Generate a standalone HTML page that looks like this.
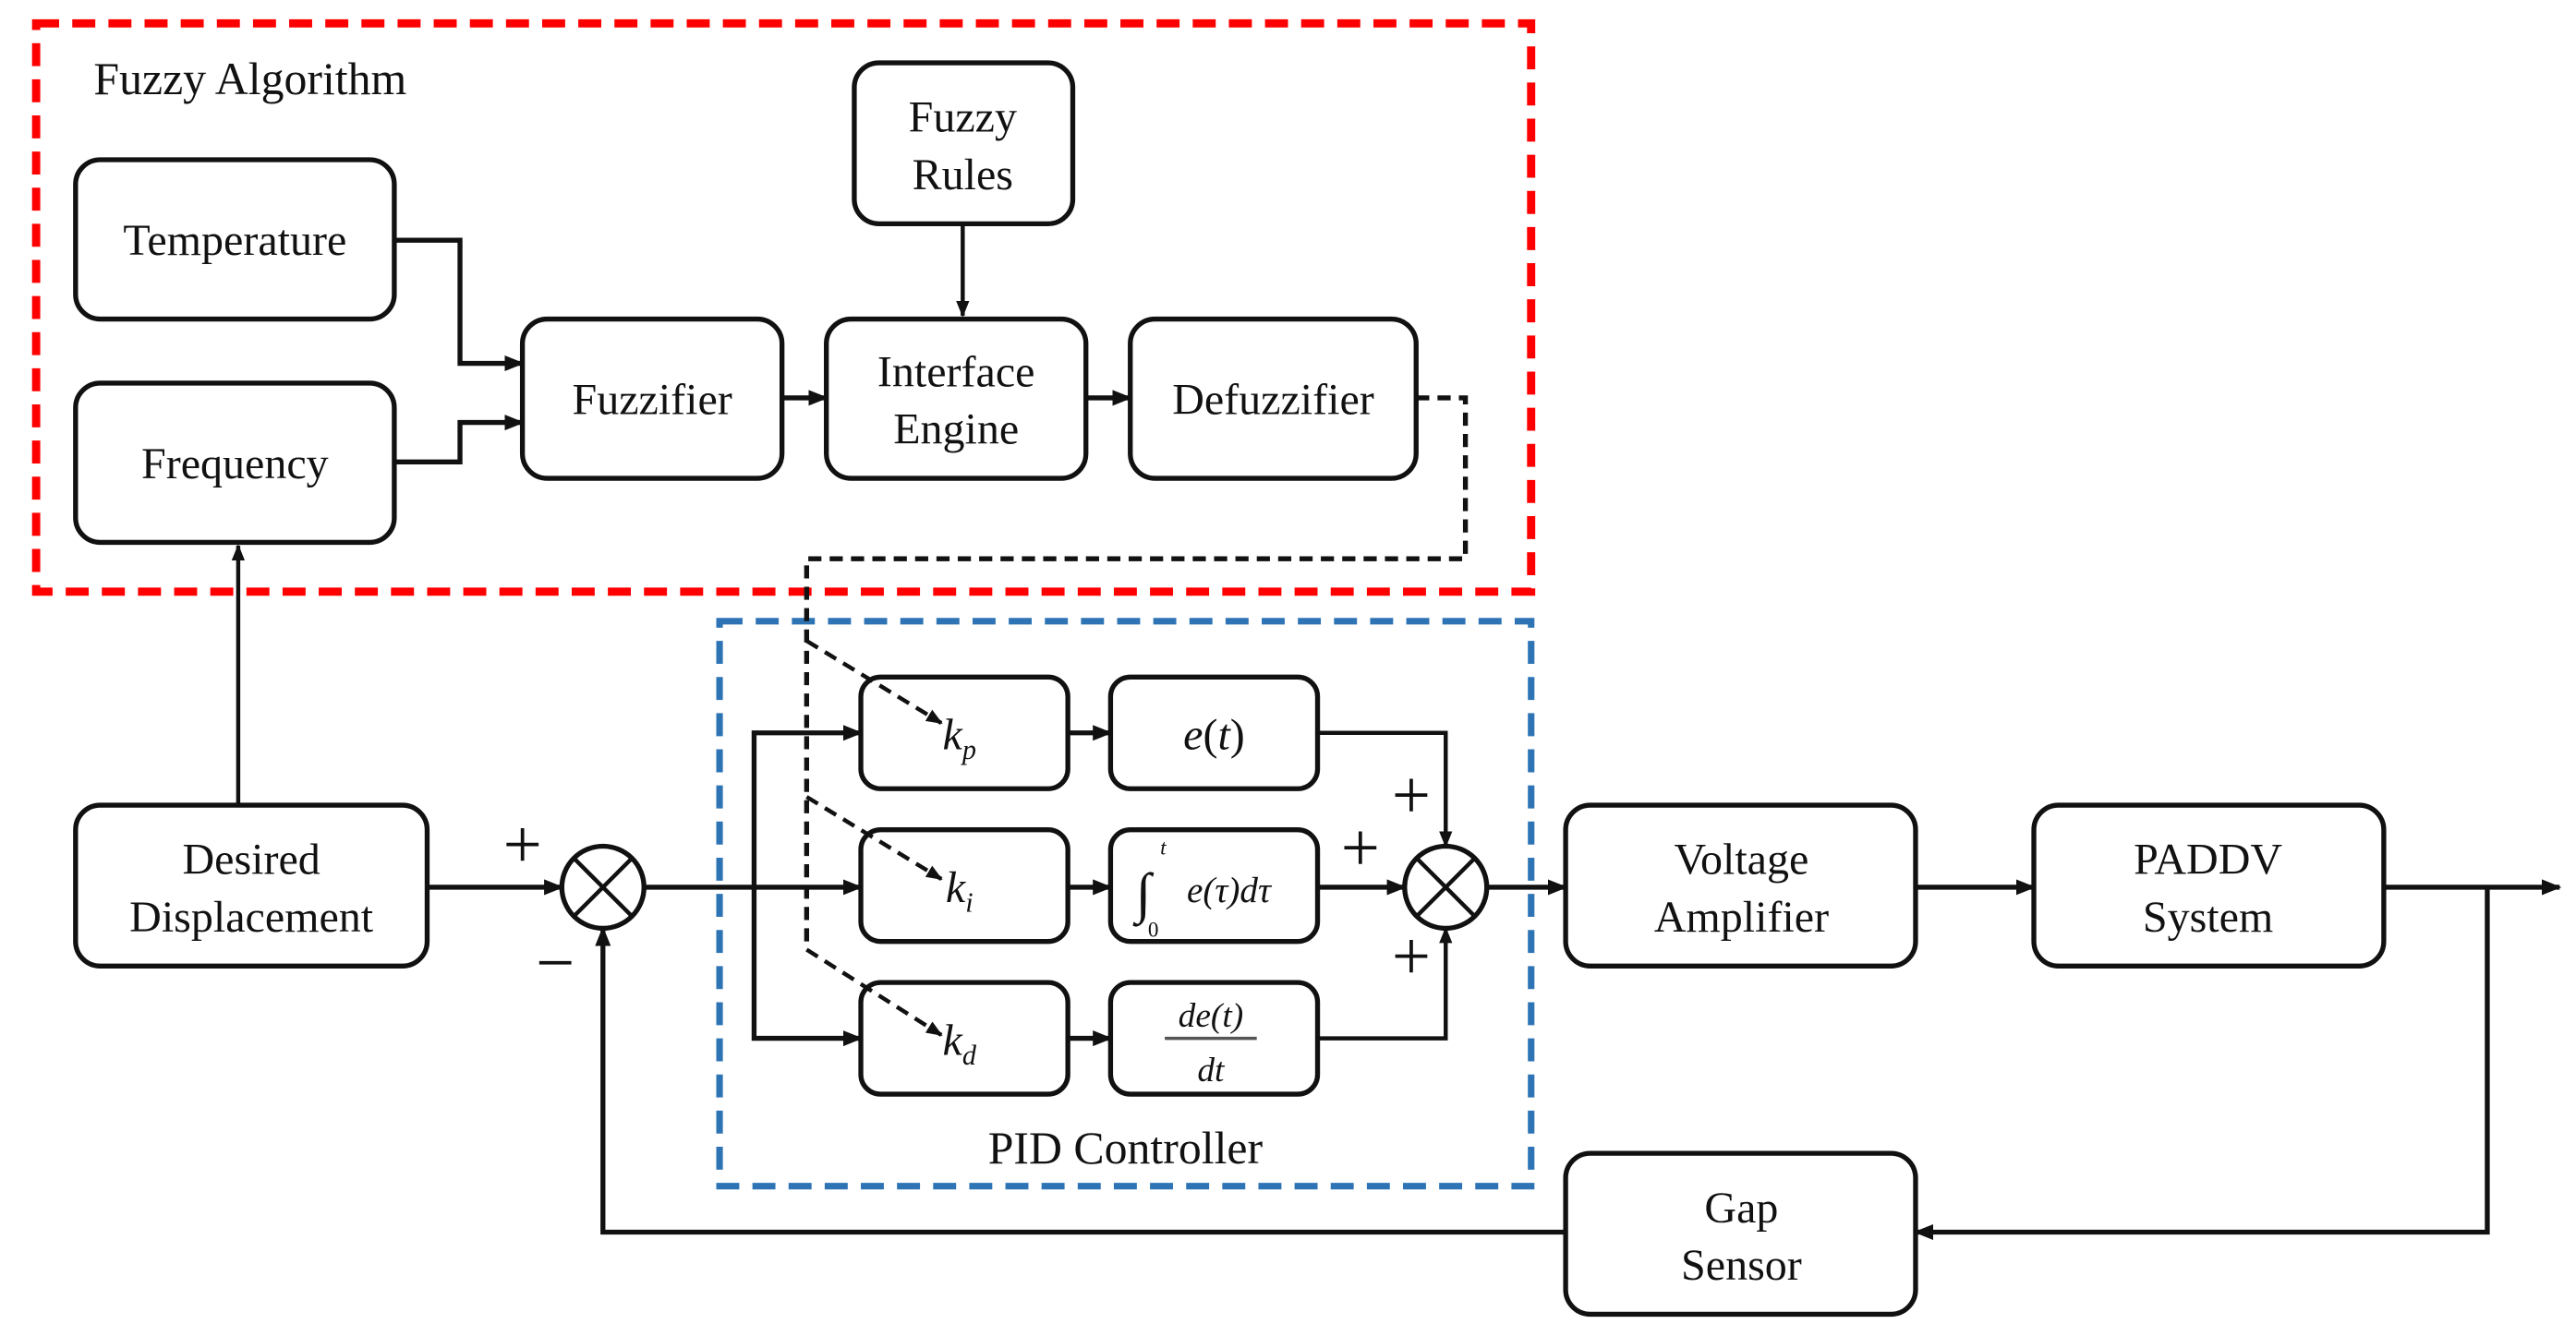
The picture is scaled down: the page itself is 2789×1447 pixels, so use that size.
<!DOCTYPE html>
<html><head><meta charset="utf-8"><style>
html,body{margin:0;padding:0;background:#fff;}
svg{display:block;}
svg text{font-family:"Liberation Serif","Times New Roman",serif !important;fill:#111;}
</style></head><body>
<svg width="2789" height="1447" viewBox="0 0 1568 813" xmlns="http://www.w3.org/2000/svg" font-family="Liberation Serif, serif">
<defs>
<marker id="a" viewBox="0 0 10 10" refX="9" refY="5" markerWidth="4" markerHeight="4" orient="auto"><path d="M0,1 L10,5 L0,9 z" fill="#111"/></marker>
</defs>
<rect width="1568" height="813" fill="#fff"/>
<rect x="22" y="14" width="910" height="346" fill="none" stroke="#f00" stroke-width="5" stroke-dasharray="14,8"/>
<text x="57" y="57" font-size="28" font-family="Liberation Serif, serif">Fuzzy Algorithm</text>
<rect x="438" y="378" width="494" height="344" fill="none" stroke="#2e74b5" stroke-width="4" stroke-dasharray="14,8"/>
<text x="685" y="708" font-size="28" text-anchor="middle" font-family="Liberation Serif, serif">PID Controller</text>
<g fill="#fff" stroke="#111" stroke-width="3">
<rect x="520" y="38" width="133" height="98" rx="15"/>
<rect x="46" y="97" width="194" height="97" rx="15"/>
<rect x="46" y="233" width="194" height="97" rx="15"/>
<rect x="318" y="194" width="158" height="97" rx="15"/>
<rect x="503" y="194" width="158" height="97" rx="15"/>
<rect x="688" y="194" width="174" height="97" rx="15"/>
<rect x="46" y="490" width="214" height="98" rx="15"/>
<rect x="524" y="412" width="126" height="68" rx="12"/>
<rect x="676" y="412" width="126" height="68" rx="12"/>
<rect x="524" y="505" width="126" height="68" rx="12"/>
<rect x="676" y="505" width="126" height="68" rx="12"/>
<rect x="524" y="598" width="126" height="68" rx="12"/>
<rect x="676" y="598" width="126" height="68" rx="12"/>
<rect x="953" y="490" width="213" height="98" rx="15"/>
<rect x="1238" y="490" width="213" height="98" rx="15"/>
<rect x="953" y="702" width="213" height="98" rx="15"/>
</g>
<g font-size="27" text-anchor="middle" font-family="Liberation Serif, serif">
<text x="586" y="80">Fuzzy</text><text x="586" y="115">Rules</text>
<text x="143" y="155">Temperature</text>
<text x="143" y="291">Frequency</text>
<text x="397" y="252">Fuzzifier</text>
<text x="582" y="235">Interface</text><text x="582" y="270">Engine</text>
<text x="775" y="252">Defuzzifier</text>
<text x="153" y="532">Desired</text><text x="153" y="567">Displacement</text>
<text x="1060" y="532">Voltage</text><text x="1060" y="567">Amplifier</text>
<text x="1344" y="532">PADDV</text><text x="1344" y="567">System</text>
<text x="1060" y="744">Gap</text><text x="1060" y="779">Sensor</text>
</g>
<g font-style="italic" font-size="27" text-anchor="middle" font-family="Liberation Serif, serif">
<text x="584" y="456">k<tspan font-size="17" dy="6">p</tspan></text>
<text x="584" y="549">k<tspan font-size="17" dy="6">i</tspan></text>
<text x="584" y="642">k<tspan font-size="17" dy="6">d</tspan></text>
<text x="739" y="456"><tspan>e</tspan><tspan font-style="normal">(</tspan>t<tspan font-style="normal">)</tspan></text>
<text x="748" y="549" font-size="22">e(τ)dτ</text>
<text x="696" y="555" font-size="34" font-style="normal">∫</text>
<text x="708" y="520" font-size="13">t</text>
<text x="702" y="570" font-size="13" font-style="normal">0</text>
<text x="737" y="625" font-size="21">de(t)</text>
<text x="737" y="658" font-size="21">dt</text>
</g>
<line x1="709" y1="632" x2="765" y2="632" stroke="#555" stroke-width="2"/>
<g fill="none" stroke="#111" stroke-width="3" marker-end="url(#a)">
<path d="M240,146 H280 V221 H318"/>
<path d="M240,281 H280 V257 H318"/>
<path d="M476,242 H503"/>
<path d="M661,242 H688"/>
<path d="M586,136 V192" stroke-width="2.5"/>
<path d="M145,490 V332" stroke-width="2.5"/>
<path d="M260,540 H342"/>
<path d="M392,540 H524"/>
<path d="M459,540 V446 H524"/>
<path d="M459,540 V632 H524"/>
<path d="M650,446 H676"/>
<path d="M650,540 H676"/>
<path d="M650,632 H676"/>
<path d="M802,446 H880 V515" stroke-width="2.5"/>
<path d="M802,540 H855"/>
<path d="M802,632 H880 V565" stroke-width="2.5"/>
<path d="M905,540 H953"/>
<path d="M1166,540 H1238"/>
<path d="M1451,540 H1558"/>
<path d="M1514,540 V750 H1166"/>
<path d="M953,750 H367 V565"/>
</g>
<g fill="none" stroke="#111" stroke-width="3" stroke-dasharray="8,5">
<path d="M862,242 H892 V340 H491 V578"/>
</g>
<g fill="none" stroke="#111" stroke-width="2.5" stroke-dasharray="8,5" marker-end="url(#a)">
<path d="M491,390 L573,440"/>
<path d="M491,485 L573,535"/>
<path d="M491,578 L573,630"/>
</g>
<g fill="#fff" stroke="#111" stroke-width="3">
<circle cx="367" cy="540" r="25"/>
<circle cx="880" cy="540" r="25"/>
</g>
<g stroke="#111" stroke-width="2.5">
<line x1="349" y1="522" x2="385" y2="558"/><line x1="385" y1="522" x2="349" y2="558"/>
<line x1="862" y1="522" x2="898" y2="558"/><line x1="898" y1="522" x2="862" y2="558"/>
</g>
<g font-size="42" text-anchor="middle" font-family="Liberation Serif, serif">
<text x="318" y="528">+</text>
<text x="338" y="600">−</text>
<text x="859" y="498">+</text>
<text x="828" y="530">+</text>
<text x="859" y="596">+</text>
</g>
</svg>
</body></html>
